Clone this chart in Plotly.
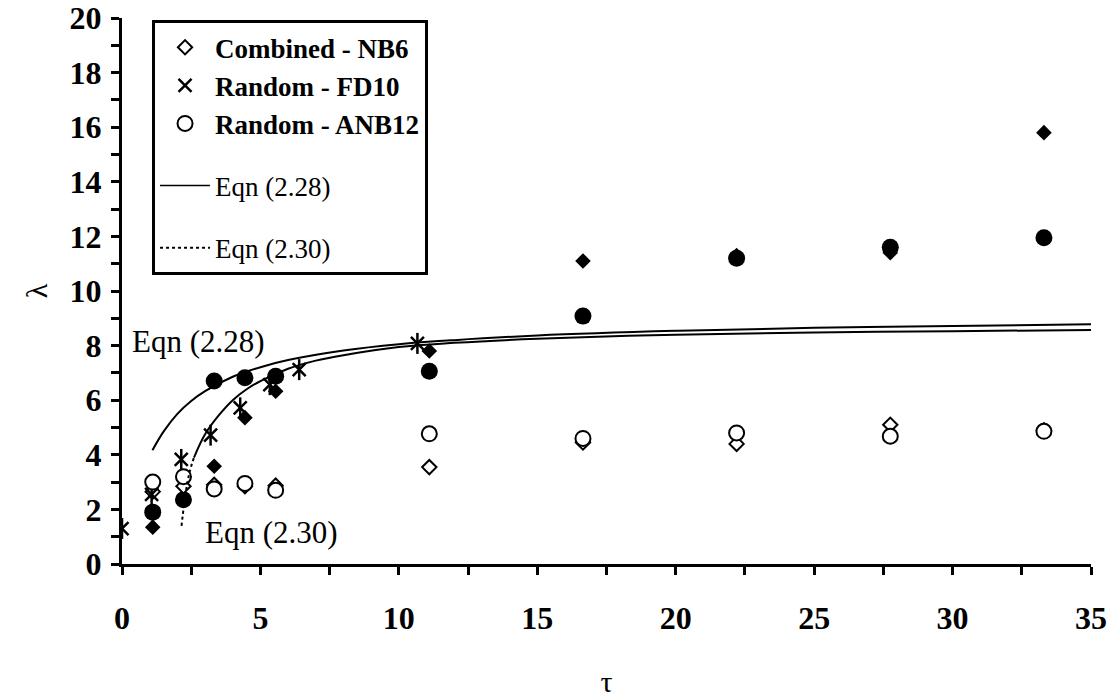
import plotly.graph_objects as go

# ---------------- data ----------------
# Combined - NB6 (open diamonds)
nb6_tau = [1.11, 2.22, 3.33, 4.44, 5.55, 11.1, 16.65, 22.2, 27.75, 33.3]
nb6_lam = [2.65, 2.85, 2.9, 2.85, 2.87, 3.55, 4.45, 4.4, 5.1, 4.9]

# Random - FD10 (asterisks)
fd10_tau = [0.0, 1.07, 2.14, 3.2, 4.27, 5.34, 6.4, 10.67]
fd10_lam = [1.3, 2.55, 3.83, 4.72, 5.72, 6.57, 7.12, 8.08]

# Random - ANB12 (open circles)
anb12_tau = [1.11, 2.22, 3.33, 4.44, 5.55, 11.1, 16.65, 22.2, 27.75, 33.3]
anb12_lam = [3.0, 3.2, 2.75, 2.95, 2.7, 4.77, 4.6, 4.8, 4.68, 4.86]

# filled diamonds (not in legend)
fdia_tau = [1.11, 3.33, 4.44, 5.55, 11.1, 16.65, 22.2, 27.75, 33.3]
fdia_lam = [1.35, 3.58, 5.36, 6.33, 7.8, 11.1, 11.3, 11.4, 15.8]

# filled circles (not in legend)
fcir_tau = [1.11, 2.22, 3.33, 4.44, 5.55, 11.1, 16.65, 22.2, 27.75, 33.3]
fcir_lam = [1.9, 2.35, 6.7, 6.82, 6.88, 7.06, 9.08, 11.2, 11.6, 11.95]

# Eqn (2.28) curve
e228_tau = [1.1, 1.5, 2.0, 2.5, 3.0, 4.0, 5.0, 6.0, 8.0, 10.0, 12.0, 15.0, 20.0, 25.0, 30.0, 35.0]
e228_lam = [4.17, 4.85, 5.5, 5.97, 6.33, 6.86, 7.21, 7.47, 7.82, 8.05, 8.2, 8.37, 8.54, 8.65, 8.72, 8.78]

# Eqn (2.30) curve: steep dotted start, then the rest
e230a_tau = [2.15, 2.3, 2.45, 2.6]
e230a_lam = [1.4, 2.6, 3.4, 3.9]
e230b_tau = [2.6, 3.0, 3.5, 4.0, 4.5, 5.0, 6.0, 7.0, 8.0, 10.0, 12.0, 15.0, 20.0, 25.0, 30.0, 35.0]
e230b_lam = [3.9, 4.75, 5.45, 6.0, 6.4, 6.7, 7.15, 7.45, 7.65, 7.95, 8.1, 8.25, 8.4, 8.48, 8.53, 8.57]

FONT = "Liberation Serif"
BLACK = "black"

fig = go.Figure()

# curves
fig.add_trace(go.Scatter(x=e228_tau, y=e228_lam, mode="lines", line=dict(color=BLACK, width=2, shape="spline"),
                         showlegend=False, hoverinfo="skip"))
fig.add_trace(go.Scatter(x=e230b_tau, y=e230b_lam, mode="lines", line=dict(color=BLACK, width=2, shape="spline"),
                         showlegend=False, hoverinfo="skip"))

# unlabelled filled series
fig.add_trace(go.Scatter(x=fdia_tau, y=fdia_lam, mode="markers", showlegend=False,
                         marker=dict(symbol="diamond", size=12, color=BLACK)))
fig.add_trace(go.Scatter(x=fcir_tau, y=fcir_lam, mode="markers", showlegend=False,
                         marker=dict(symbol="circle", size=17, color=BLACK)))

# legend series
fig.add_trace(go.Scatter(x=nb6_tau, y=nb6_lam, mode="markers", name="<b>Combined - NB6</b>", legendgroup="a",
                         marker=dict(symbol="diamond", size=11, color="white", line=dict(color=BLACK, width=2))))
fig.add_trace(go.Scatter(x=fd10_tau, y=fd10_lam, mode="markers", showlegend=False, legendgroup="a",
                         marker=dict(symbol="line-ns-open", size=15, color=BLACK, line=dict(color=BLACK, width=2.5))))
fig.add_trace(go.Scatter(x=fd10_tau, y=fd10_lam, mode="markers", name="<b>Random - FD10</b>", legendgroup="a",
                         marker=dict(symbol="x-thin-open", size=13, color=BLACK, line=dict(color=BLACK, width=2.5))))
fig.add_trace(go.Scatter(x=anb12_tau, y=anb12_lam, mode="markers", name="<b>Random - ANB12</b>", legendgroup="a",
                         marker=dict(symbol="circle", size=15, color="white", line=dict(color=BLACK, width=2))))
fig.add_trace(go.Scatter(x=[None], y=[None], mode="lines", name="Eqn (2.28)", legendgroup="d",
                         line=dict(color=BLACK, width=1.5)))
fig.add_trace(go.Scatter(x=e230a_tau, y=e230a_lam, mode="lines", name="Eqn (2.30)", legendgroup="e",
                         line=dict(color=BLACK, width=2, dash="dot", shape="spline")))

fig.update_layout(
    width=1120, height=698,
    margin=dict(l=122, r=29, t=18, b=134, autoexpand=False),
    plot_bgcolor="white", paper_bgcolor="white",
    font=dict(family=FONT, color=BLACK),
    legend=dict(x=0.031, y=0.996, xanchor="left", yanchor="top",
                bordercolor=BLACK, borderwidth=3, bgcolor="white",
                font=dict(family=FONT, size=27, color=BLACK),
                traceorder="grouped", tracegroupgap=24, itemwidth=50),
    annotations=[
        dict(x=0.3, y=8.15, xref="x", yref="y", text="Eqn (2.28)", showarrow=False,
             xanchor="left", yanchor="middle", font=dict(family=FONT, size=31, color=BLACK)),
        dict(x=2.94, y=1.15, xref="x", yref="y", text="Eqn (2.30)", showarrow=False,
             xanchor="left", yanchor="middle", font=dict(family=FONT, size=31, color=BLACK)),
    ],
)

fig.update_xaxes(range=[0, 35], dtick=5, tick0=0, showgrid=False, zeroline=False, automargin=False,
                 showline=True, linecolor=BLACK, linewidth=3,
                 ticks="outside", ticklen=8, tickwidth=3, tickcolor=BLACK,
                 minor=dict(dtick=2.5, ticks="outside", ticklen=8, tickwidth=3, tickcolor=BLACK, showgrid=False),
                 tickfont=dict(family=FONT, size=32, color=BLACK, weight="bold"),
                 ticklabelstandoff=16, ticklabeloverflow="allow",
                 title=dict(text="τ", font=dict(family=FONT, size=30, color=BLACK), standoff=42))
fig.update_yaxes(range=[0, 20], dtick=2, tick0=0, showgrid=False, zeroline=False, automargin=False,
                 showline=True, linecolor=BLACK, linewidth=3,
                 ticks="outside", ticklen=8, tickwidth=3, tickcolor=BLACK,
                 minor=dict(dtick=1, ticks="outside", ticklen=8, tickwidth=3, tickcolor=BLACK, showgrid=False),
                 tickfont=dict(family=FONT, size=32, color=BLACK, weight="bold"),
                 ticklabelstandoff=3, ticklabeloverflow="allow",
                 title=dict(text="λ", font=dict(family=FONT, size=30, color=BLACK), standoff=14))

# remove the default 8px page margin so the figure fills the window exactly
fig.write_html("out.html", config={"displayModeBar": False},
               post_script="document.documentElement.style.margin='0';document.body.style.margin='0';")
